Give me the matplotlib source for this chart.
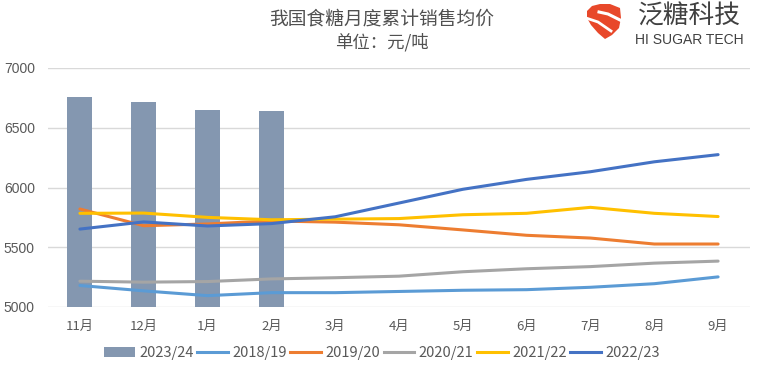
import matplotlib
matplotlib.use("Agg")
import matplotlib.pyplot as plt
from matplotlib.patches import Polygon, Patch
from matplotlib.lines import Line2D

plt.rcParams['font.family'] = ['Noto Sans CJK SC', 'DejaVu Sans']

months = ["11月", "12月", "1月", "2月", "3月", "4月", "5月", "6月", "7月", "8月", "9月"]
bar_label = "2023/24"
bar_values = [6760, 6715, 6645, 6638]

s1819 = [5180, 5135, 5095, 5120, 5120, 5130, 5140, 5145, 5165, 5195, 5252]
s1920 = [5820, 5680, 5695, 5720, 5710, 5688, 5645, 5600, 5577, 5527, 5527]
s2021 = [5216, 5208, 5213, 5235, 5245, 5258, 5295, 5320, 5338, 5367, 5384]
s2122 = [5784, 5786, 5750, 5730, 5735, 5740, 5772, 5784, 5834, 5784, 5757]
s2223 = [5652, 5712, 5678, 5698, 5755, 5870, 5985, 6068, 6132, 6215, 6275]

series = [("2018/19", s1819, "#5B9BD5"),
          ("2019/20", s1920, "#ED7D31"),
          ("2020/21", s2021, "#A5A5A5"),
          ("2021/22", s2122, "#FFC000"),
          ("2022/23", s2223, "#4472C4")]

W, H = 757, 372
fig = plt.figure(figsize=(W / 100, H / 100), dpi=100)
ax = fig.add_axes([48 / W, 1 - 307 / H, 702 / W, 239 / H])

x = list(range(len(months)))
ax.bar(x[:len(bar_values)], bar_values, width=0.39, color="#8497B0", zorder=2)
for name, vals, col in series:
    ax.plot(x, vals, color=col, lw=2.2, zorder=3, solid_capstyle="round")

ax.set_xlim(-0.5, len(months) - 0.5)
ax.set_ylim(5000, 7000)
ax.set_yticks([5000, 5500, 6000, 6500, 7000])
ax.set_xticks(x)
ax.set_xticklabels(months)
ax.grid(axis="y", color="#D9D9D9", lw=1.0, zorder=0)
ax.set_axisbelow(True)
for s in ax.spines.values():
    s.set_visible(False)
ax.tick_params(length=0, colors="#595959", labelsize=9.5)
ax.tick_params(axis="y", pad=9.5)
ax.tick_params(axis="x", pad=9)
for lab in ax.get_yticklabels():
    lab.set_fontfamily(["Liberation Sans", "DejaVu Sans"])
    lab.set_fontsize(10)

handles = [Patch(facecolor="#8497B0", label=bar_label)]
for name, vals, col in series:
    handles.append(Line2D([0], [0], color=col, lw=2.2, label=name))
fig.legend(handles=handles, loc="center", bbox_to_anchor=(382 / W, 1 - 353 / H),
           ncol=6, frameon=False, fontsize=10.5, handlelength=2.1, handletextpad=0.3,
           columnspacing=0.25, labelcolor="#595959")

fig.text(382 / W, 1 - 19 / H, "我国食糖月度累计销售均价", ha="center", va="center",
         fontsize=13.5, color="#505050")
fig.text(382 / W, 1 - 42 / H, "单位：元/吨", ha="center", va="center",
         fontsize=12.5, color="#505050")

# logo
def P(px, py):
    return (px / W, 1 - py / H)

shield = [P(587, 11), P(592, 6), P(600, 4), P(610, 4), P(620, 8), P(621, 18),
          P(619, 28), P(612, 35), P(605, 39), P(598, 33), P(591, 25), P(587, 18)]
fig.patches.append(Polygon(shield, closed=True, transform=fig.transFigure,
                           facecolor="#E8482A", edgecolor="none", zorder=1))
fig.add_artist(Line2D([599 / W, 608 / W, 622 / W], [1 - 12 / H, 1 - 14 / H, 1 - 21 / H],
                      transform=fig.transFigure, color="white", lw=2.2, zorder=2))
fig.add_artist(Line2D([586 / W, 598 / W, 611 / W], [1 - 18 / H, 1 - 22 / H, 1 - 31 / H],
                      transform=fig.transFigure, color="white", lw=2.0, zorder=2))
fig.text(689 / W, 1 - 17 / H, "泛糖科技", ha="center", va="center",
         fontsize=18.5, color="#404040")
fig.text(689 / W, 1 - 40 / H, "HI SUGAR TECH", ha="center", va="center",
         fontsize=10, color="#404040", fontfamily=["Liberation Sans", "DejaVu Sans"])

fig.savefig("out.png", dpi=100)
